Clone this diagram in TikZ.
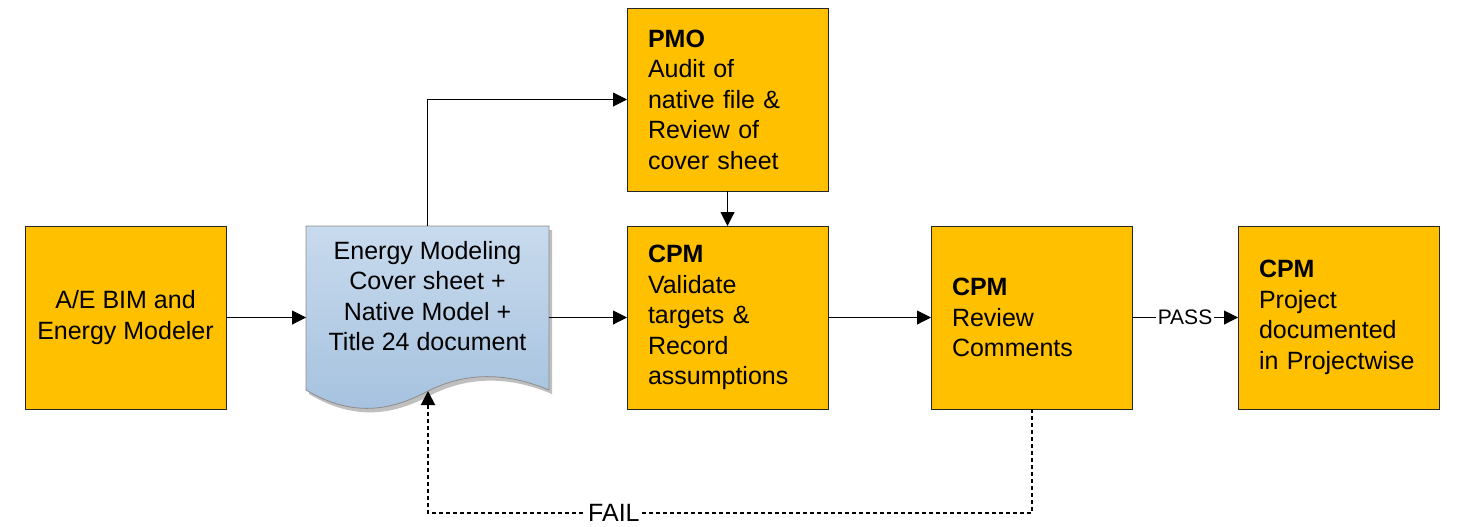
\documentclass[tikz,border=0pt]{standalone}
\usepackage{fontspec}
\setmainfont{Liberation Sans}
\usepackage{xcolor}
\usetikzlibrary{positioning,calc,arrows.meta,backgrounds}
\definecolor{boxorange}{HTML}{FFC000}
\definecolor{doctop}{HTML}{C8DAED}
\definecolor{docbottom}{HTML}{A4C1DE}
\tikzstyle{orange box}=[
        draw = black!85,
        line width = 0.5pt,
        fill = boxorange,
        minimum width = 100.5pt,
        minimum height = 91.5pt,
        inner sep = 0pt,
        outer sep = 0pt
    ]
\tikzstyle{task box}=[
    orange box,
    inner xsep = 10.5pt,
    text width = 79.5pt,
    align = left
]
\tikzstyle{doc text}=[
    minimum width = 121.5pt,
    minimum height = 70pt,
    inner sep = 0pt,
    outer sep = 0pt,
    align = center
]
\tikzstyle{fail line}=[
    line width = 1pt,
    dash pattern = on 2pt off 1.5pt
]
\newcommand{\docoutline}{(0,24) .. controls (50,54) and (90,42) .. (122,25) .. controls (160,6) and (200,6) .. (243,24) -- (243,-140) -- (0,-140) -- cycle}

\begin{document}
\begin{tikzpicture}[x=0.5pt, y=-0.5pt, line width=0.5pt, >={Triangle[length=7pt,width=7pt]}, font=\fontsize{12.5}{15.25}\selectfont]
        \useasboundingbox (0,0) rectangle (1459,526);

        \node[orange box, align=center] (ae) at (125.5,317.5) {A/E BIM and\\Energy Modeler};
        \node[task box] (cpm1) [right = 200.5pt of ae] {\textbf{CPM}\\Validate\\targets \&\\Record\\assumptions};
        \node[task box] (pmo) [above = 17.5pt of cpm1] {\textbf{PMO}\\Audit of\\native file \&\\Review of\\cover sheet};
        \node[task box] (cpm2) [right = 51.5pt of cpm1] {\textbf{CPM}\\Review\\Comments};
        \node[task box] (cpm3) [right = 53pt of cpm2] {\textbf{CPM}\\Project\\documented\\in Projectwise};
        \node[doc text] (doc) [right = 40pt of ae, yshift = 10.75pt] {Energy Modeling\\Cover sheet +\\Native Model +\\Title 24 document};

        \begin{scope}[on background layer, shift={(doc.south west)}]
            \fill[black!25, xshift=1.5pt, yshift=-2pt] \docoutline;
            \shade[draw=black!45, top color=doctop, bottom color=docbottom] \docoutline;
            \coordinate (docin) at (122,25);
        \end{scope}

        \coordinate (failturn) at ($(cpm2.south)+(0,104)$);

        \draw[->] (ae) -- (ae -| doc.west);
        \draw[->] (doc.east |- cpm1) -- (cpm1);
        \draw[->] (doc.north) |- (pmo);
        \draw[->] (pmo) -- (cpm1);
        \draw[->] (cpm1) -- (cpm2);
        \draw[->] (cpm2) -- (cpm3) node [midway, fill=white, inner sep=1pt, font=\fontsize{10.5}{12}\selectfont] {PASS};
        \draw[fail line, ->] (cpm2) -- (failturn) -| (docin) node [pos=0.346, fill=white, inner sep=1pt] {FAIL};

    \end{tikzpicture}
\end{document}
